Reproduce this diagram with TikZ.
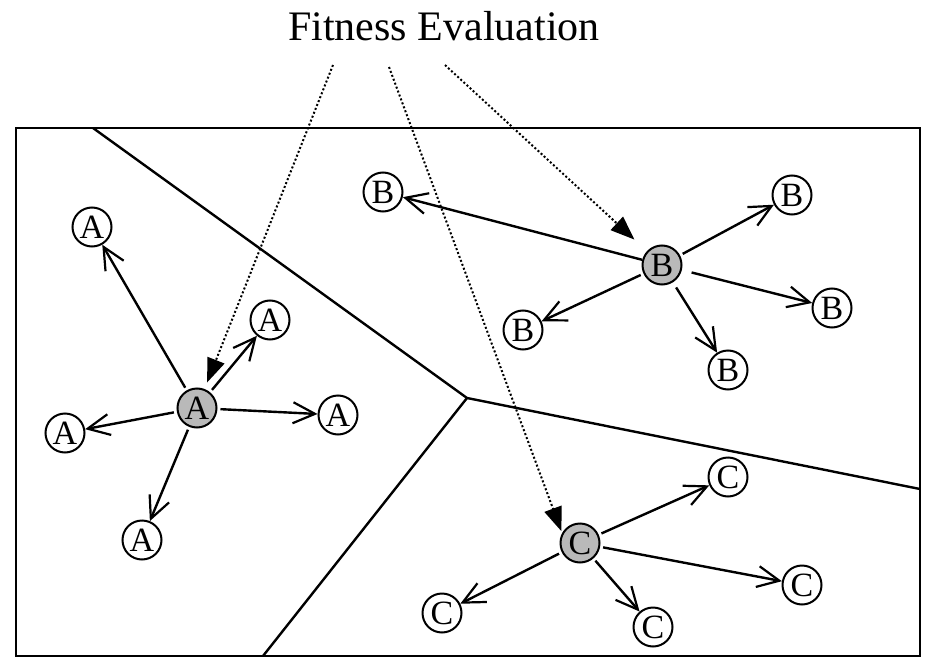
\documentclass[tikz,border=0pt]{standalone}
\usepackage{fontspec}
\setmainfont{Liberation Serif}
\usetikzlibrary{arrows.meta}
\begin{document}
\begin{tikzpicture}[x=1pt,y=-1pt,
  member/.style={circle,draw,line width=2pt,minimum size=39pt,inner sep=0pt,
    font=\fontsize{34}{34}\selectfont},
  leader/.style={member,fill=gray!55},
  spread/.style={line width=2.4pt,shorten <=3pt,
    -{Straight Barb[length=22pt,width=21pt,line width=2.2pt]}},
  evalarrow/.style={line width=2pt,dash pattern=on 2pt off 2.2pt,
    -{Triangle[length=24pt,width=18pt]}},
  border/.style={line width=2.6pt},
  region/.style={line width=2.4pt}]
\useasboundingbox (0,0) rectangle (926,658);

% title
\node[font=\fontsize{42}{42}\selectfont] (title) at (444,26) {Fitness Evaluation};

% frame and region boundaries
\draw[border] (16,128) rectangle (920,656);
\coordinate (J) at (467,398);
\coordinate (Rtop) at (93,128);
\coordinate (Rright) at (920,489);
\coordinate (Rbottom) at (263,656);
\draw[region] (Rtop) -- (J) -- (Rright);
\draw[region] (J) -- (Rbottom);

% population A
\node[leader] (Ac) at (197,408) {A};
\node[member] (A1) at (92,227) {A};
\node[member] (A2) at (270,320) {A};
\node[member] (A3) at (338,415) {A};
\node[member] (A4) at (65,433) {A};
\node[member] (A5) at (142,540) {A};
\foreach \t in {A1,A2,A3,A4,A5} \draw[spread] (Ac) -- (\t);

% population B
\node[leader] (Bc) at (662,265) {B};
\node[member] (B1) at (383,192) {B};
\node[member] (B2) at (792,195) {B};
\node[member] (B3) at (832,308) {B};
\node[member] (B4) at (728,370) {B};
\node[member] (B5) at (523,330) {B};
\draw[spread,shorten <=0pt] (Bc) -- (B1);
\draw[spread] (Bc) -- (B2);
\draw[spread,shorten <=10pt] (Bc) -- (B3);
\draw[spread,shorten <=6pt] (Bc) -- (B4);
\draw[spread] (Bc) -- (B5);

% population C
\node[leader] (Cc) at (580,543) {C};
\node[member] (C1) at (728,477) {C};
\node[member] (C2) at (802,585) {C};
\node[member] (C3) at (653,627) {C};
\node[member] (C4) at (442,613) {C};
\foreach \t in {C1,C2,C3,C4} \draw[spread] (Cc) -- (\t);

% evaluation pointers
\coordinate (E1) at (333,65);
\coordinate (E2) at (389,67);
\coordinate (E3) at (445,65);
\draw[evalarrow,shorten >=7pt] (E1) -- (Ac);
\draw[evalarrow,shorten >=2pt] (E2) -- (Cc.151);
\draw[evalarrow,shorten >=17pt] (E3) -- (Bc);
\end{tikzpicture}
\end{document}
